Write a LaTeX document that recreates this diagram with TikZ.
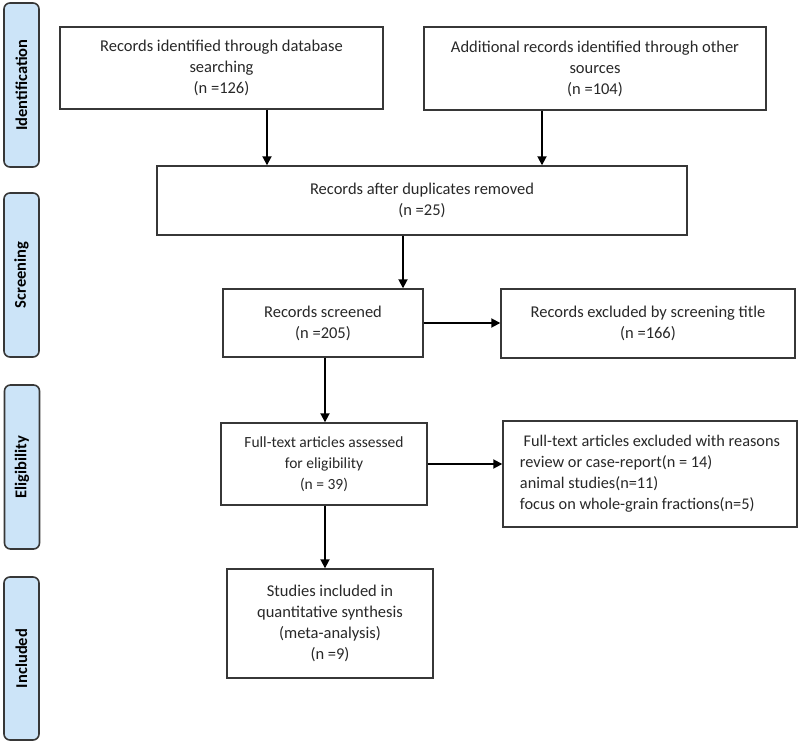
\documentclass[tikz,border=0pt]{standalone}
\usepackage{fontspec}
\setmainfont{Carlito}
\usetikzlibrary{arrows.meta}
\definecolor{sideblue}{RGB}{204,228,248}
\definecolor{edgegray}{RGB}{55,55,55}
\definecolor{txtgray}{RGB}{40,40,40}
\tikzset{
  sidebox/.style={draw=edgegray, line width=1.6pt, fill=sideblue, rounded corners=6pt,
    minimum width=35pt, inner sep=0pt, text=black},
  flowbox/.style={draw=edgegray, line width=1.4pt, fill=white, inner sep=0pt,
    align=center, text=txtgray, font=\fontsize{16.5}{21}\selectfont},
  arr/.style={draw=black, line width=1.8pt, -{Triangle[length=9pt,width=9pt]}},
  sidetext/.style={rotate=90, font=\bfseries\fontsize{16.5}{18}\selectfont}
}
\begin{document}
\begin{tikzpicture}[x=1pt,y=-1pt]
\useasboundingbox (0,0) rectangle (800,743);
% side phase labels
\node[sidebox, minimum height=164pt] (s1) at (21.5,85) {};
\node[sidetext] (s1t) at (s1.center) {Identification};
\node[sidebox, minimum height=164pt] (s2) at (21.5,275) {};
\node[sidetext] (s2t) at (s2.center) {Screening};
\node[sidebox, minimum height=164pt] (s3) at (22,467) {};
\node[sidetext] (s3t) at (s3.center) {Eligibility};
\node[sidebox, minimum height=163pt] (s4) at (21.5,658.5) {};
\node[sidetext] (s4t) at (s4.center) {Included};
% flow boxes
\node[flowbox, minimum width=323pt, minimum height=82pt] (db) at (221.5,68)
  {Records identified through database\\searching\\(n =126)};
\node[flowbox, minimum width=342pt, minimum height=83pt] (other) at (595,68.5)
  {Additional records identified through other\\sources\\(n =104)};
\node[flowbox, minimum width=530pt, minimum height=69pt] (dup) at (422,200.5)
  {Records after duplicates removed\\(n =25)};
\node[flowbox, minimum width=200pt, minimum height=68pt] (scr) at (323,323)
  {Records screened\\(n =205)};
\node[flowbox, minimum width=294pt, minimum height=69pt] (excl) at (648,323.5)
  {Records excluded by screening title\\(n =166)};
\node[flowbox, minimum width=206pt, minimum height=82pt, font=\fontsize{15.5}{21}\selectfont] (full) at (324,464)
  {Full-text articles assessed\\for eligibility\\(n = 39)};
\node[flowbox, minimum width=294pt, minimum height=106pt, align=left, font=\fontsize{16.3}{21}\selectfont] (rsn) at (650,474)
  {\ Full-text articles excluded with reasons\\review or case-report(n = 14)\\animal studies(n=11)\\focus on whole-grain fractions(n=5)};
\node[flowbox, minimum width=206pt, minimum height=109pt] (stu) at (330,623.5)
  {Studies included in\\quantitative synthesis\\(meta-analysis)\\(n =9)};
% connector x positions
\coordinate (xa) at (267,0);
\coordinate (xb) at (542,0);
\coordinate (xc) at (403,0);
\coordinate (xd) at (325,0);
\draw[arr] (db.south -| xa) -- (dup.north -| xa);
\draw[arr] (other.south -| xb) -- (dup.north -| xb);
\draw[arr] (dup.south -| xc) -- (scr.north -| xc);
\draw[arr] (scr.east) -- (scr.east -| excl.west);
\draw[arr] (scr.south -| xd) -- (full.north -| xd);
\draw[arr] (full.east) -- (full.east -| rsn.west);
\draw[arr] (full.south -| xd) -- (stu.north -| xd);
\end{tikzpicture}
\end{document}
